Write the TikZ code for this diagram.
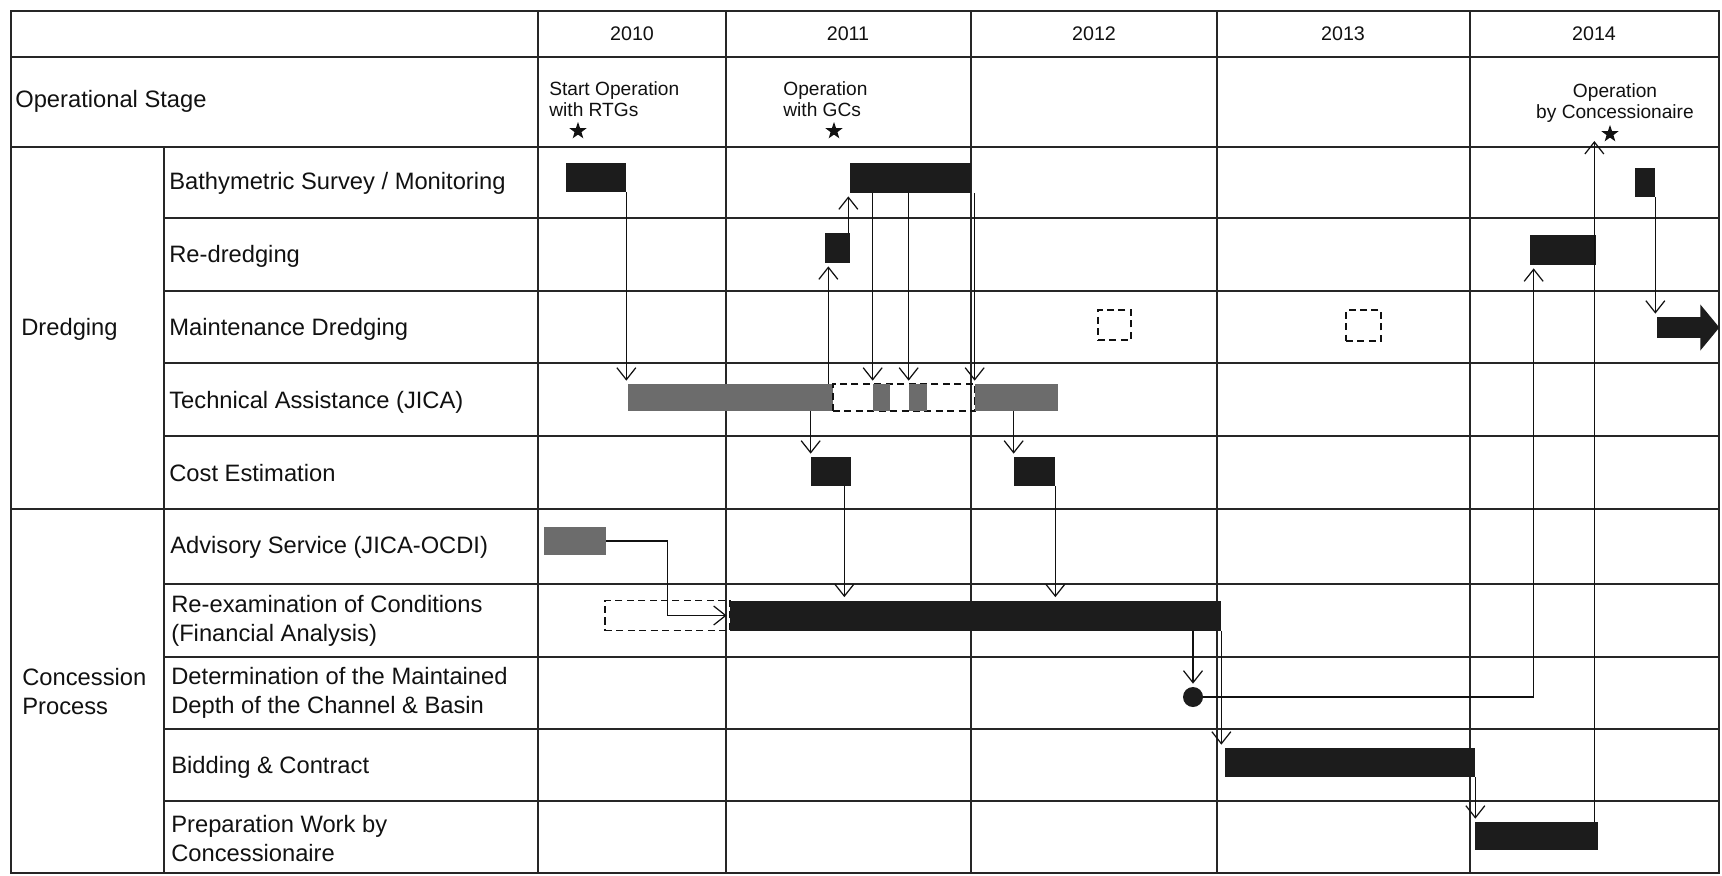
\documentclass[tikz,border=0pt]{standalone}
\usepackage{fontspec}
\setmainfont{Liberation Sans}
\usepackage{tikz}
\usetikzlibrary{arrows.meta,calc,shapes.geometric}
\definecolor{Ink}{HTML}{111111}
\definecolor{GridInk}{HTML}{262626}
\definecolor{BarDark}{HTML}{1C1C1C}
\definecolor{BarGray}{HTML}{6C6C6C}
\tikzset{
  gridLine/.style={draw=GridInk,line width=1.2pt,line cap=rect},
  rowLabel/.style={anchor=west,align=left,inner sep=0pt,text=Ink,
    font=\fontsize{13.5}{16.5}\selectfont},
  yearLabel/.style={inner sep=0pt,text=Ink,font=\fontsize{11.2}{13}\selectfont},
  opNote/.style={inner sep=0pt,text=Ink,font=\fontsize{10.9}{12}\selectfont},
  milestone/.style={star,star points=5,star point ratio=2.5,fill=Ink,
    inner sep=0pt,minimum size=3.6mm},
  barDark/.style={rectangle,fill=BarDark,inner sep=0pt},
  barGray/.style={rectangle,fill=BarGray,inner sep=0pt},
  barPlan/.style={rectangle,draw=Ink,line width=0.9pt,
    dash pattern=on 4pt off 2.5pt,inner sep=0pt},
  decision/.style={circle,fill=BarDark,inner sep=0pt,minimum size=4mm},
  link/.style={-{Straight Barb[length=2.4mm,width=3.8mm]},draw=Ink,
    line width=0.7pt,shorten >=0.6mm}
}

\begin{document}
\begin{tikzpicture}[x=0.2mm,y=-0.2mm]
  \useasboundingbox (0,0) rectangle (1722,875);
  % table
  \foreach \y in {11,57,147,509,873}{\draw[gridLine] (11,\y) -- (1719,\y);}
  \foreach \y in {218,291,363,436,584,657,729,801}{\draw[gridLine] (164,\y) -- (1719,\y);}
  \foreach \x in {11,538,726,971,1217,1470,1719}{\draw[gridLine] (\x,11) -- (\x,873);}
  \draw[gridLine] (164,147) -- (164,873);
  \foreach \yr/\x in {2010/632,2011/848,2012/1094,2013/1343,2014/1594}
    {\node[yearLabel] (yr\yr) at (\x,34) {\yr};}
  % labels
  \node[rowLabel] (opStage) at (15,101) {Operational Stage};
  \node[rowLabel] (dredging) at (21,329) {Dredging};
  \node[rowLabel] (concession) at (22,692) {Concession\\Process};
  \node[rowLabel] (lBathy) at (169,183) {Bathymetric Survey / Monitoring};
  \node[rowLabel] (lRedredge) at (169,256) {Re-dredging};
  \node[rowLabel] (lMaint) at (169,329) {Maintenance Dredging};
  \node[rowLabel] (lTech) at (169,402) {Technical Assistance (JICA)};
  \node[rowLabel] (lCost) at (169,473) {Cost Estimation};
  \node[rowLabel] (lAdvisory) at (170,547) {Advisory Service (JICA-OCDI)};
  \node[rowLabel] (lReexam) at (171,621) {Re-examination of Conditions\\(Financial Analysis)};
  \node[rowLabel] (lDepth) at (171,693) {Determination of the Maintained\\Depth of the Channel \& Basin};
  \node[rowLabel] (lBidding) at (171,767) {Bidding \& Contract};
  \node[rowLabel] (lPrep) at (171,839) {Preparation Work by\\Concessionaire};
  % operational stage
  \node[opNote,anchor=west,align=left] (noteRTG) at (549,99) {Start Operation\\with RTGs};
  \node[opNote,anchor=west,align=left] (noteGC) at (783,99) {Operation\\with GCs};
  \node[opNote,align=center] (noteConc) at (1615,103) {Operation\\by Concessionaire};
  \node[milestone] (stRTG) at (578,131) {};
  \node[milestone] (stGC) at (834,131) {};
  \node[milestone] (stConc) at (1610,134) {};
  % dredging bars
  \node[barDark,minimum width=12mm,minimum height=5.8mm] (bs1) at (596,177.5) {};
  \node[barDark,minimum width=24.2mm,minimum height=6mm] (bs2) at (910.5,178) {};
  \node[barDark,minimum width=4mm,minimum height=5.8mm] (bs3) at (1645,182.5) {};
  \node[barDark,minimum width=5mm,minimum height=6mm] (rd1) at (837.5,248) {};
  \node[barDark,minimum width=13.2mm,minimum height=6mm] (rd2) at (1563,250) {};
  \node[barPlan,minimum width=6.6mm,minimum height=6mm] (md1) at (1114.5,325) {};
  \node[barPlan,minimum width=7mm,minimum height=6.2mm] (md2) at (1363.5,325.5) {};
  \node[barDark,minimum width=9mm,minimum height=4.2mm] (md3) at (1679.5,327.5) {};
  \fill[BarDark] ($(md3.east)+(-2,-23)$) -- ($(md3.east)+(17,0)$) -- ($(md3.east)+(-2,23)$) -- cycle;
  \node[barGray,minimum width=41mm,minimum height=5.4mm] (ta1) at (730.5,397.5) {};
  \node[barPlan,minimum width=28.4mm,minimum height=5.4mm] (tad) at (904,397.5) {};
  \node[barGray,minimum width=3.4mm,minimum height=5.4mm] (tag1) at (881.5,397.5) {};
  \node[barGray,minimum width=3.6mm,minimum height=5.4mm] (tag2) at (918,397.5) {};
  \node[barGray,minimum width=16.6mm,minimum height=5.4mm] (ta2) at (1016.5,397.5) {};
  \node[barDark,minimum width=8mm,minimum height=5.8mm] (ce1) at (831,471.5) {};
  \node[barDark,minimum width=8.2mm,minimum height=5.8mm] (ce2) at (1034.5,471.5) {};
  % concession bars
  \node[barGray,minimum width=12.4mm,minimum height=5.6mm] (as1) at (575,541) {};
  \node[barPlan,minimum width=25mm,minimum height=6mm] (red) at (667.5,615.5) {};
  \node[barDark,minimum width=98.2mm,minimum height=6mm] (reb) at (975.5,615.5) {};
  \node[decision] (dt) at (1193,697) {};
  \node[barDark,minimum width=50mm,minimum height=5.8mm] (bc) at (1350,762.5) {};
  \node[barDark,minimum width=24.6mm,minimum height=5.6mm] (pw) at (1536.5,836) {};
  % links
  \coordinate (tRd) at ([xshift=-1mm]ta1.north east);
  \coordinate (rBs) at ([xshift=-0.4mm]rd1.north east);
  \coordinate (cRe) at ([xshift=-1.4mm]ce1.south east);
  \coordinate (dRd) at ([xshift=0.8mm]rd2.south west);
  \coordinate (pOp) at ([xshift=-0.8mm]pw.north east);
  \draw[link] (bs1.south east) -- (bs1.south east |- ta1.north);
  \draw[link] (tRd) -- (tRd |- rd1.south);
  \draw[link] (rBs) -- (rBs |- bs2.south);
  \foreach \t in {tag1,tag2,ta2}{\draw[link] (\t.north west |- bs2.south) -- (\t.north west);}
  \foreach \a/\b in {ta1/ce1,ta2/ce2}{\draw[link] (\b.north west |- \a.south) -- (\b.north west);}
  \draw[link] (cRe) -- (cRe |- reb.north);
  \draw[link] (ce2.south east) -- (ce2.south east |- reb.north);
  \draw[link] (as1.east) -| (red.center) -- (reb.west);
  \draw[link] (dt |- reb.south) -- (dt.north);
  \draw[link] (dt.east) -| (dRd);
  \draw[link] (reb.south east) -- (reb.south east |- bc.north);
  \draw[link] (bc.south east) -- (bc.south east |- pw.north);
  \draw[link] (pOp) -- (pOp |- stConc.south);
  \draw[link] (bs3.south east) -- (bs3.south east |- md3.north);
\end{tikzpicture}
\end{document}
